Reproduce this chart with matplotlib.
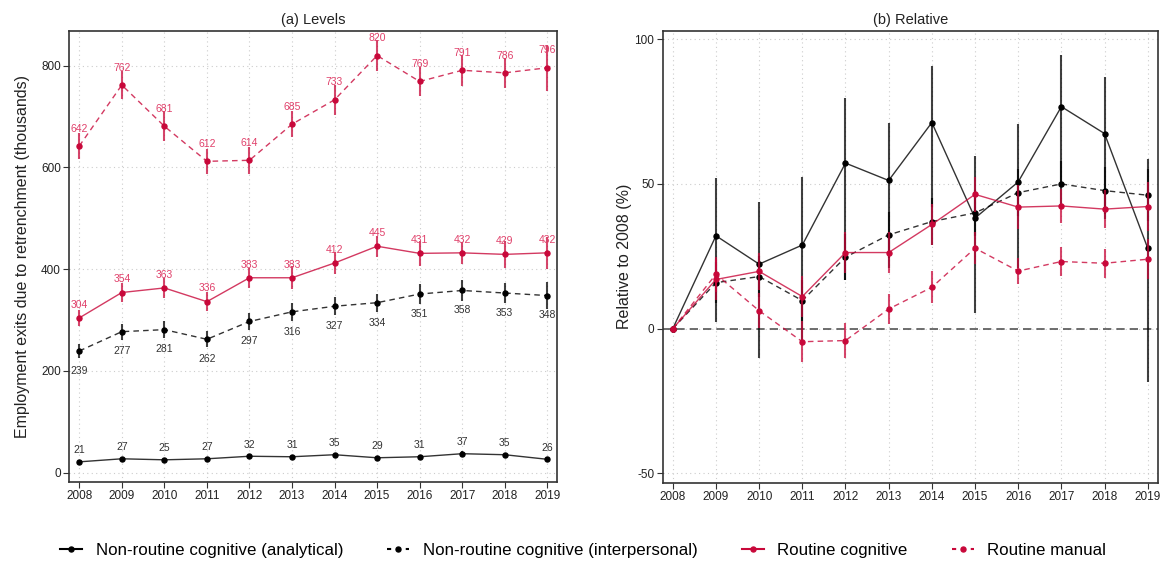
import numpy as np
import matplotlib
matplotlib.use("Agg")
import matplotlib.pyplot as plt
from matplotlib.lines import Line2D

plt.rcParams['font.family'] = ['Liberation Sans', 'DejaVu Sans']
plt.rcParams['axes.unicode_minus'] = False

years = np.arange(2008, 2020)

# (a) levels, thousands
lev_analytical = [21, 27, 25, 27, 32, 31, 35, 29, 31, 37, 35, 26]
lev_analytical_err = [3, 4, 3, 3, 4, 4, 4, 4, 4, 5, 4, 4]
lev_interp = [239, 277, 281, 262, 297, 316, 327, 334, 351, 358, 353, 348]
lev_interp_err = [13, 16, 16, 16, 17, 18, 18, 18, 19, 20, 20, 26]
lev_cognitive = [304, 354, 363, 336, 383, 383, 412, 445, 431, 432, 429, 432]
lev_cognitive_err = [16, 18, 19, 19, 20, 23, 21, 21, 25, 22, 26, 32]
lev_manual = [642, 762, 681, 612, 614, 685, 733, 820, 769, 791, 786, 796]
lev_manual_err = [25, 28, 29, 24, 26, 26, 30, 31, 28, 31, 30, 45]

# (b) relative to 2008, %
rel_analytical = [0, 32.1, 22.3, 28.9, 57.2, 51.2, 71.2, 38.2, 50.7, 76.7, 67.4, 27.8]
rel_analytical_lo = [0, 2.4, -10.2, -4, 16.8, 21, 42, 5.5, 21, 50, 38, -18.3]
rel_analytical_hi = [0, 52.0, 43.9, 52.4, 79.7, 71.0, 90.8, 59.7, 70.6, 94.6, 87.1, 58.7]
rel_interp = [0, 15.9, 18.0, 9.7, 24.7, 32.4, 37.0, 40.0, 47.0, 50.0, 47.7, 46.1]
rel_interp_err = [0, 7, 7, 7, 8, 8, 8, 8, 8, 8, 8, 9]
rel_cognitive = [0, 17.0, 19.8, 11.1, 26.3, 26.3, 36.0, 46.4, 42.0, 42.4, 41.3, 42.2]
rel_cognitive_err = [0, 7, 6.5, 7, 7, 7, 7, 6, 7.7, 6, 6.5, 8.5]
rel_manual = [0, 18.8, 6.2, -4.5, -4.1, 6.8, 14.3, 27.8, 19.9, 23.2, 22.6, 24.0]
rel_manual_err = [0, 6, 6, 7, 6, 5.3, 5.5, 5.5, 4.6, 5, 5, 7]

names = ["Non-routine cognitive (analytical)", "Non-routine cognitive (interpersonal)",
         "Routine cognitive", "Routine manual"]
BLACK = "#000000"
RED = "#C8083A"
colors = [BLACK, BLACK, RED, RED]
styles = ["-", (0, (4, 3)), "-", (0, (4, 3))]

fig = plt.figure(figsize=(11.66, 5.61), dpi=100)
ax1 = fig.add_axes([0.0594, 0.1414, 0.418, 0.804])
ax2 = fig.add_axes([0.5684, 0.1396, 0.425, 0.806])


def style_axes(ax):
    for s in ax.spines.values():
        s.set_color("#333333")
        s.set_linewidth(1.2)
    ax.tick_params(axis="both", colors="#333333", labelcolor="#222222",
                   labelsize=8.5, length=4, width=0.8, pad=2)
    ax.set_xticks(years)
    ax.grid(True, color="#cccccc", linestyle=(0, (1, 3)), linewidth=0.8)
    ax.set_axisbelow(True)


def draw(ax, y, lo, hi, color, ls):
    y = np.asarray(y, dtype=float)
    ax.errorbar(years, y, yerr=[np.asarray(lo), np.asarray(hi)], fmt="none",
                ecolor=color, elinewidth=1.5, alpha=0.75, capsize=0)
    ax.plot(years, y, color=color, linestyle=ls, linewidth=1.0, alpha=0.8)
    ax.plot(years, y, "o", color=color, markersize=3.6, linestyle="none")


# (a) Levels
style_axes(ax1)
lev = [(lev_analytical, lev_analytical_err), (lev_interp, lev_interp_err),
       (lev_cognitive, lev_cognitive_err), (lev_manual, lev_manual_err)]
for (y, e), c, ls in zip(lev, colors, styles):
    draw(ax1, y, e, e, c, ls)

nudges = [23, -39, 26, 34]
label_colors = ["#333333", "#333333", "#E0406A", "#E0406A"]
for (y, e), dy, lc in zip(lev, nudges, label_colors):
    for xv, yv in zip(years, y):
        ax1.text(xv, yv + dy, str(yv), ha="center", va="center",
                 fontsize=7.5, color=lc)

ax1.set_xlim(2007.765, 2019.22)
ax1.set_ylim(-18, 869)
ax1.set_yticks([0, 200, 400, 600, 800])
ax1.set_ylabel("Employment exits due to retrenchment (thousands)", fontsize=11.5,
               color="#222222", labelpad=8)
ax1.set_title("(a) Levels", fontsize=10.5, color="#222222", pad=5)

# (b) Relative
style_axes(ax2)
ax2.axhline(0, color="#555555", linestyle=(0, (5, 3)), linewidth=1.2, zorder=1)
rel = [(rel_analytical,
        np.subtract(rel_analytical, rel_analytical_lo),
        np.subtract(rel_analytical_hi, rel_analytical)),
       (rel_interp, rel_interp_err, rel_interp_err),
       (rel_cognitive, rel_cognitive_err, rel_cognitive_err),
       (rel_manual, rel_manual_err, rel_manual_err)]
for (y, lo, hi), c, ls in zip(rel, colors, styles):
    draw(ax2, y, lo, hi, c, ls)

ax2.set_xlim(2007.768, 2019.245)
ax2.set_ylim(-53.2, 103)
ax2.set_yticks([-50, 0, 50, 100])
ax2.set_ylabel("Relative to 2008 (%)", fontsize=11.5, color="#222222", labelpad=2)
ax2.set_title("(b) Relative", fontsize=10.5, color="#222222", pad=5)

# legend keys: shorter dashes so the dashed ones read as dashed
key_styles = ["-", (0, (2, 2.5)), "-", (0, (2, 2.5))]
handles = [Line2D([0], [0], color=c, linestyle=ls, linewidth=1.5, marker="o",
                  markersize=3.6) for c, ls in zip(colors, key_styles)]
fig.legend(handles, names, loc="lower center", bbox_to_anchor=(0.5, -0.022), ncol=4,
           frameon=False, fontsize=12.2, handlelength=1.3, handletextpad=0.8,
           columnspacing=2.6)

fig.savefig("out.png", dpi=100)
